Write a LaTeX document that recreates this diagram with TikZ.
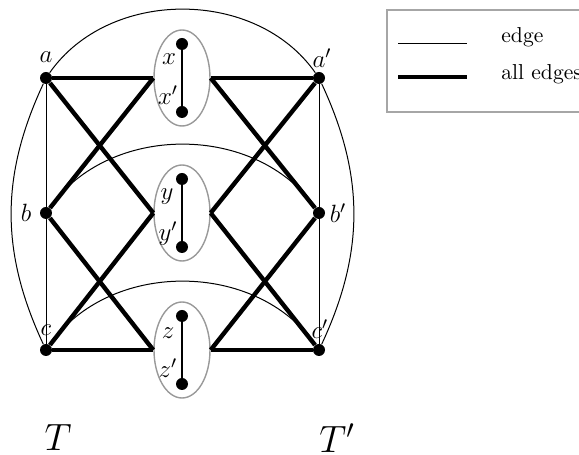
\documentclass[tikz,border=0pt]{standalone}
\usepackage{fix-cm}
\usetikzlibrary{shapes.geometric}
\tikzset{
  vertice/.style={circle, fill=black, inner sep=0pt, minimum size=6pt},
  gruppo/.style={ellipse, draw=black!40, line width=0.7pt, inner sep=0pt,
    minimum width=28pt, minimum height=48pt},
  arco/.style={line width=0.5pt},
  arcospesso/.style={line width=2.2pt},
  etichetta/.style={inner sep=0pt, font=\fontsize{12.5}{15}\selectfont},
  testo/.style={inner sep=0pt, font=\fontsize{10.8}{13}\selectfont},
  grande/.style={inner sep=0pt, font=\fontsize{19}{22}\selectfont}
}
\begin{document}
\begin{tikzpicture}[x=0.5pt, y=0.5pt]
    \path[use as bounding box] (0,0) rectangle (579,455);
    \clip (0,0) rectangle (579,455);
    % Vertici di T e T'
    \node[vertice] (a) at (46,377) {};
    \node[vertice] (b) at (46,242) {};
    \node[vertice] (c) at (46,105) {};
    \node[vertice] (ap) at (319,377) {};
    \node[vertice] (bp) at (319,242) {};
    \node[vertice] (cp) at (319,105) {};
    % Gruppi centrali
    \node[gruppo] (X) at (182,377) {};
    \node[gruppo] (Y) at (182,242) {};
    \node[gruppo] (Z) at (182,105) {};
    \node[vertice] (x) at (182,411) {};
    \node[vertice] (xp) at (182,343) {};
    \node[vertice] (y) at (182,276) {};
    \node[vertice] (yp) at (182,208) {};
    \node[vertice] (z) at (182,139) {};
    \node[vertice] (zp) at (182,71) {};
    \draw[arco, line width=0.7pt] (x) -- (xp);
    \draw[arco, line width=0.7pt] (y) -- (yp);
    \draw[arco, line width=0.7pt] (z) -- (zp);
    % Etichette
    \node[etichetta] (la) at (46,398) {$a$};
    \node[etichetta] (lb) at (26,242) {$b$};
    \node[etichetta] (lc) at (46,125) {$c$};
    \node[etichetta] (lap) at (322,397) {$a'$};
    \node[etichetta] (lbp) at (338,242) {$b'$};
    \node[etichetta] (lcp) at (320,126) {$c'$};
    \node[etichetta] (lx) at (169,396) {$x$};
    \node[etichetta] (lxp) at (168,360) {$x'$};
    \node[etichetta] (ly) at (167,258) {$y$};
    \node[etichetta] (lyp) at (168,221) {$y'$};
    \node[etichetta] (lz) at (168,122) {$z$};
    \node[etichetta] (lzp) at (168,87) {$z'$};
    \node[grande] (T) at (58,17) {$T$};
    \node[grande] (Tp) at (337,17) {$T'$};
    % Archi sottili
    \draw[arco] (a) -- (c);
    \draw[arco] (ap) -- (cp);
    \draw[arco] (a) to[out=55,in=125] (ap);
    \draw[arco] (b) to[out=55,in=125] (bp);
    \draw[arco] (c) to[out=55,in=125] (cp);
    \draw[arco] (a) to[out=-115,in=115] (c);
    \draw[arco] (ap) to[out=-65,in=65] (cp);
    % Archi spessi verso i gruppi
    \foreach \nodo/\grp in {a/X, a/Y, b/X, b/Z, c/Y, c/Z} {
        \draw[arcospesso] (\nodo) -- (\grp.west);
        \draw[arcospesso] (\nodo p) -- (\grp.east);
    }
    % Legenda
    \draw[black!35, line width=0.6pt] (387,445) rectangle (600,343);
    \coordinate (l1) at (398,411);
    \coordinate (l2) at (467,411);
    \coordinate (l3) at (398,378);
    \coordinate (l4) at (467,378);
    \draw[arco] (l1) -- (l2);
    \draw[arcospesso] (l3) -- (l4);
    \node[testo, anchor=base west] (le) at (501,412) {edge};
    \node[testo, anchor=base west] (lae) at (501,375) {all edges};
\end{tikzpicture}
\end{document}
